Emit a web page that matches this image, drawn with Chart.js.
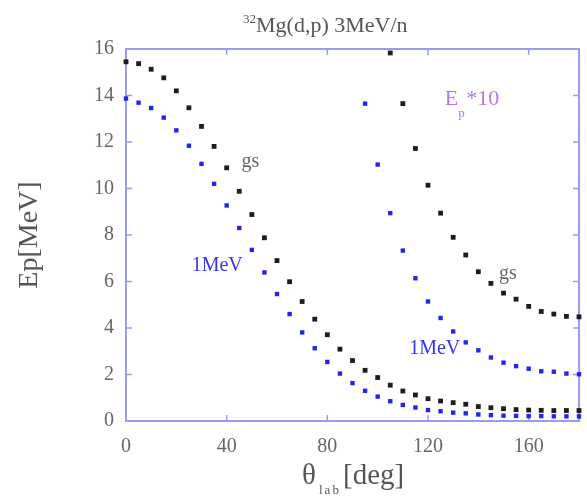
<!DOCTYPE html>
<html>
<head>
<meta charset="utf-8">
<script src="https://cdn.jsdelivr.net/npm/chart.js@4"></script>
<style>
  html, body { margin: 0; padding: 0; background: #fff; }
  #wrap { width: 587px; height: 497px; }
</style>
</head>
<body>
<div id="wrap"><canvas id="c" width="587" height="497"></canvas></div>
<script>
// Lab angles (deg) for the full angular range
const angles = [0, 5, 10, 15, 20, 25, 30, 35, 40, 45, 50, 55, 60, 65, 70, 75, 80, 85, 90,
                95, 100, 105, 110, 115, 120, 125, 130, 135, 140, 145, 150, 155, 160, 165, 170, 175, 180];

// Proton energy, ground state
const epGs = [15.45, 15.37, 15.13, 14.76, 14.20, 13.47, 12.67, 11.81, 10.89, 9.88, 8.88, 7.88,
              6.90, 5.99, 5.14, 4.38, 3.71, 3.09, 2.60, 2.18, 1.87, 1.54, 1.29, 1.12, 0.96,
              0.86, 0.79, 0.72, 0.62, 0.57, 0.53, 0.49, 0.47, 0.46, 0.45, 0.45, 0.45];

// Proton energy, 1 MeV excited state
const ep1MeV = [13.87, 13.69, 13.46, 13.05, 12.50, 11.84, 11.06, 10.20, 9.27, 8.30, 7.36, 6.39,
                5.46, 4.60, 3.81, 3.13, 2.54, 2.04, 1.63, 1.30, 1.05, 0.85, 0.69, 0.58, 0.47,
                0.42, 0.36, 0.33, 0.28, 0.25, 0.23, 0.22, 0.21, 0.21, 0.20, 0.20, 0.20];

// Backward angles, energies scaled by 10
const anglesGsX10 = [105, 110, 115, 120, 125, 130, 135, 140, 145, 150, 155, 160, 165, 170, 175, 180];
const epGsX10 = [15.83, 13.65, 11.72, 10.14, 8.94, 7.90, 7.14, 6.42, 5.92, 5.50, 5.24, 4.93,
                 4.71, 4.60, 4.50, 4.48];

const angles1MeVX10 = [95, 100, 105, 110, 115, 120, 125, 130, 135, 140, 145, 150, 155, 160,
                       165, 170, 175, 180];
const ep1MeVX10 = [13.65, 11.03, 8.94, 7.33, 6.14, 5.14, 4.43, 3.85, 3.38, 3.04, 2.73, 2.51,
                   2.36, 2.25, 2.14, 2.12, 2.04, 2.01];

// Axis ticks
const xTicks = [0, 40, 80, 120, 160];
const yTicks = [0, 2, 4, 6, 8, 10, 12, 14, 16];

const pairs = (xs, ys) => xs.map((x, i) => ({ x: x, y: ys[i] }));

const BLACK = '#1c1c1c';
const BLUE = '#2323ee';
const FRAME = '#9a9af2';
const SERIF = '"Liberation Serif", "DejaVu Serif", serif';

function marker(color, r) {
  return {
    showLine: false,
    pointStyle: 'rect',
    pointRadius: r,
    pointHoverRadius: r,
    pointBackgroundColor: color,
    pointBorderColor: color,
    pointBorderWidth: 0,
    clip: false
  };
}

// Frame with inward tick marks on all four sides
const framePlugin = {
  id: 'frame',
  beforeDatasetsDraw(chart) {
    const { ctx, chartArea: a, scales } = chart;
    ctx.save();
    ctx.strokeStyle = FRAME;
    ctx.lineWidth = 2;
    ctx.strokeRect(a.left, a.top, a.right - a.left, a.bottom - a.top);
    ctx.lineWidth = 1.5;
    const tl = 6;
    ctx.beginPath();
    xTicks.forEach(v => {
      const px = scales.x.getPixelForValue(v);
      if (v === 0) return;
      ctx.moveTo(px, a.bottom); ctx.lineTo(px, a.bottom - tl);
      ctx.moveTo(px, a.top); ctx.lineTo(px, a.top + tl);
    });
    yTicks.forEach(v => {
      const py = scales.y.getPixelForValue(v);
      if (v === 0 || v === 16) return;
      ctx.moveTo(a.left, py); ctx.lineTo(a.left + tl, py);
      ctx.moveTo(a.right, py); ctx.lineTo(a.right - tl, py);
    });
    ctx.stroke();
    ctx.restore();
  }
};

// Title, axis titles with sub/superscripts, and curve labels
const textPlugin = {
  id: 'texts',
  afterDatasetsDraw(chart) {
    const { ctx, scales } = chart;
    const X = v => scales.x.getPixelForValue(v);
    const Y = v => scales.y.getPixelForValue(v);
    ctx.save();
    ctx.textBaseline = 'alphabetic';
    ctx.textAlign = 'left';

    // Title: 32Mg(d,p) 3MeV/n
    ctx.fillStyle = '#555';
    ctx.font = '13px ' + SERIF;
    ctx.fillText('32', 243, 23);
    const w = ctx.measureText('32').width;
    ctx.font = '22px ' + SERIF;
    ctx.fillText('Mg(d,p) 3MeV/n', 243 + w, 32);

    // Curve labels
    ctx.font = '20px ' + SERIF;
    ctx.fillStyle = '#666';
    ctx.fillText('gs', X(45.9), Y(10.92));
    ctx.fillText('gs', X(148.2), Y(6.11));
    ctx.fillStyle = '#3535ea';
    ctx.fillText('1MeV', X(26.1), Y(6.45));
    ctx.fillText('1MeV', X(112.5), Y(2.88));

    // Ep*10
    ctx.fillStyle = '#b678ee';
    const ex = X(126.7), ey = Y(13.59);
    ctx.font = '22px ' + SERIF;
    ctx.fillText('E', ex, ey);
    const ew = ctx.measureText('E').width;
    ctx.font = '13px ' + SERIF;
    ctx.fillText('p', ex + ew, ey + 12);
    ctx.font = '22px ' + SERIF;
    ctx.fillText('*10', ex + ew + 8, ey);

    // x-axis title: θlab[deg]
    ctx.fillStyle = '#555';
    ctx.font = '29px ' + SERIF;
    ctx.fillText('\u03b8', 302, 484);
    ctx.font = '13px ' + SERIF;
    ctx.letterSpacing = '2px';
    ctx.fillText('lab', 319, 494);
    ctx.letterSpacing = '0px';
    ctx.font = '29px ' + SERIF;
    ctx.fillText('[deg]', 343, 484);

    // y-axis title: Ep[MeV]
    ctx.translate(37, 235);
    ctx.rotate(-Math.PI / 2);
    ctx.textAlign = 'center';
    ctx.font = '28px ' + SERIF;
    ctx.fillText('Ep[MeV]', 0, 0);
    ctx.restore();
  }
};

new Chart(document.getElementById('c'), {
  type: 'scatter',
  data: {
    datasets: [
      Object.assign({ label: 'gs', data: pairs(angles, epGs) }, marker(BLACK, 3.4)),
      Object.assign({ label: '1MeV', data: pairs(angles, ep1MeV) }, marker(BLUE, 3.1)),
      Object.assign({ label: 'gs x10', data: pairs(anglesGsX10, epGsX10) }, marker(BLACK, 3.4)),
      Object.assign({ label: '1MeV x10', data: pairs(angles1MeVX10, ep1MeVX10) }, marker(BLUE, 3.1))
    ]
  },
  options: {
    responsive: false,
    animation: false,
    devicePixelRatio: 1,
    layout: { padding: { left: 0, top: 49, right: 8, bottom: 0 } },
    plugins: { legend: { display: false }, tooltip: { enabled: false }, title: { display: false } },
    scales: {
      x: {
        type: 'linear',
        min: 0, max: 180,
        afterFit: s => { s.height = 76; },
        afterBuildTicks: s => { s.ticks = xTicks.map(v => ({ value: v })); },
        grid: { display: false, drawTicks: false },
        border: { display: false },
        ticks: { padding: 14, color: '#666', font: { family: SERIF, size: 20 }, maxRotation: 0 }
      },
      y: {
        type: 'linear',
        min: 0, max: 16,
        afterFit: s => { s.width = 126; },
        afterBuildTicks: s => { s.ticks = yTicks.map(v => ({ value: v })); },
        grid: { display: false, drawTicks: false },
        border: { display: false },
        ticks: { padding: 12, color: '#666', font: { family: SERIF, size: 20 } }
      }
    }
  },
  plugins: [framePlugin, textPlugin]
});
</script>
</body>
</html>
